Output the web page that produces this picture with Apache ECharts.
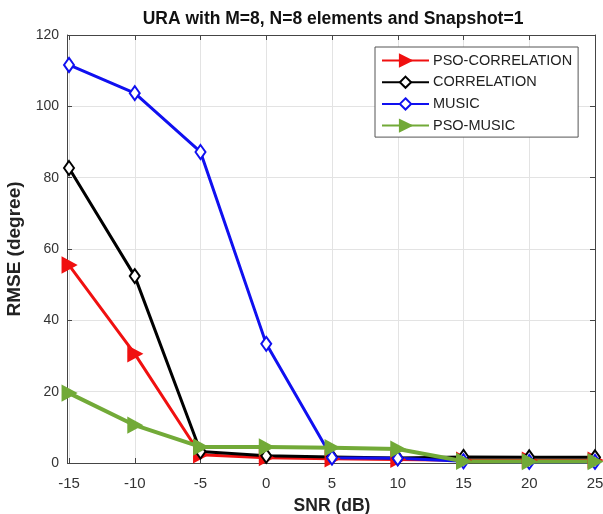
<!DOCTYPE html>
<html>
<head>
<meta charset="utf-8">
<script src="https://cdn.jsdelivr.net/npm/echarts@6/dist/echarts.min.js"></script>
<style>
html,body{margin:0;padding:0;background:#fff;}
#chart{width:603px;height:514px;}
</style>
</head>
<body>
<div id="chart"></div>
<script>
const snr = [-15, -10, -5, 0, 5, 10, 15, 20, 25];
const psoCorrelation = [55.5, 30.6, 2.3, 1.5, 1.2, 1.0, 0.8, 0.8, 0.8];
const correlation = [82.7, 52.4, 3.2, 2.0, 1.7, 1.4, 1.7, 1.6, 1.6];
const music = [111.6, 103.7, 87.2, 33.4, 1.5, 1.3, 0.5, 0.3, 0.3];
const psoMusic = [19.6, 10.6, 4.5, 4.5, 4.3, 3.9, 0.5, 0.4, 0.4];
const xTicks = [-15, -10, -5, 0, 5, 10, 15, 20, 25];
const yTicks = [0, 20, 40, 60, 80, 100, 120];

const FONT = 'Liberation Sans, Arial, sans-serif';
const AXC = '#454545';

function pairs(ys){ return snr.map((x,i)=>[x, ys[i]]); }

const chart = echarts.init(document.getElementById('chart'), null, {renderer:'canvas'});

function mk(name, data, color, symbol, size, rotate, width){
  return {
    name, type:'line', data: pairs(data),
    symbol, symbolSize:size, symbolRotate: rotate,
    showAllSymbol:true,
    lineStyle:{color, width},
    itemStyle:{color, borderColor:color, borderWidth:2},
    emphasis:{disabled:true},
    animation:false
  };
}

const axisCommon = {
  axisLine:{show:true, onZero:false, lineStyle:{color:AXC, width:1}},
  axisTick:{show:true, inside:true, length:5, lineStyle:{color:AXC}},
};

chart.setOption({
  backgroundColor:'#fff',
  animation:false,
  title:{
    text:'URA with M=8, N=8 elements and Snapshot=1',
    left:328, top:5, textAlign:'center',
    textStyle:{fontFamily:FONT, fontSize:17.5, fontWeight:'bold', color:'#111'}
  },
  grid:{left:69, right:8, top:35, bottom:51, containLabel:false, outerBoundsMode:'none'},
  legend:{
    orient:'vertical', left:375, top:47,
    padding:[6,6,4,6],
    backgroundColor:'#fff', borderColor:'#555', borderWidth:1,
    itemWidth:47, itemHeight:14, itemGap:6.7,
    textStyle:{fontFamily:FONT, fontSize:14.5, color:'#222', padding:[0,0,0,-1]},
    data:['PSO-CORRELATION','CORRELATION','MUSIC','PSO-MUSIC']
  },
  xAxis:[
    Object.assign({
      type:'value', min:-15, max:25, interval:5, position:'bottom',
      name:'SNR (dB)', nameLocation:'middle', nameGap:34,
      nameTextStyle:{fontFamily:FONT, fontSize:17.5, fontWeight:'bold', color:'#222'},
      axisLabel:{fontFamily:FONT, fontSize:15, color:'#333', margin:13,
        customValues: xTicks},
      splitLine:{show:true, lineStyle:{color:'#e3e3e3', width:1}}
    }, axisCommon),
    Object.assign({
      type:'value', min:-15, max:25, interval:5, position:'top',
      axisLabel:{show:false}, splitLine:{show:false}
    }, axisCommon)
  ],
  yAxis:[
    Object.assign({
      type:'value', min:0, max:120, interval:20, position:'left', offset:2,
      name:'RMSE (degree)', nameLocation:'middle', nameGap:42,
      nameTextStyle:{fontFamily:FONT, fontSize:19, fontWeight:'bold', color:'#222'},
      axisLabel:{fontFamily:FONT, fontSize:14, color:'#333', margin:8},
      splitLine:{show:true, lineStyle:{color:'#e3e3e3', width:1}}
    }, axisCommon),
    Object.assign({
      type:'value', min:0, max:120, interval:20, position:'right',
      axisLabel:{show:false}, splitLine:{show:false}
    }, axisCommon)
  ],
  series:[
    mk('PSO-CORRELATION', psoCorrelation, '#f01010', 'triangle', [14,13], -90, 3),
    mk('CORRELATION', correlation, '#000000', 'emptyDiamond', [10,14], 0, 3),
    mk('MUSIC', music, '#1010f0', 'emptyDiamond', [10,14], 0, 3),
    mk('PSO-MUSIC', psoMusic, '#72aa38', 'triangle', [14,13], -90, 4)
  ]
});
</script>
</body>
</html>
